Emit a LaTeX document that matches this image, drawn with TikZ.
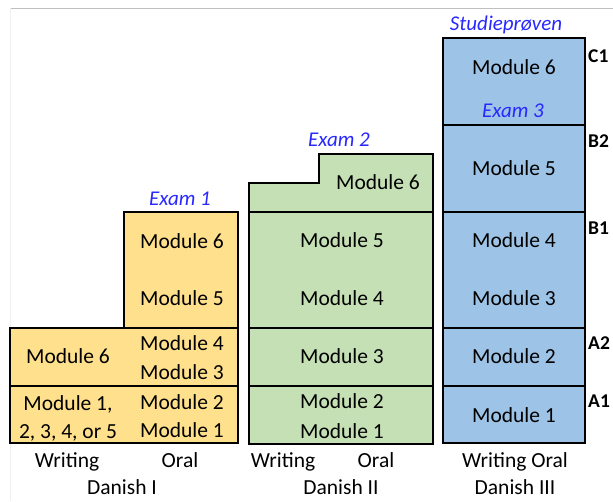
\documentclass[tikz,border=0pt]{standalone}
\usepackage{fontspec}
\setmainfont{Carlito}
\definecolor{myyellow}{RGB}{255,224,140}
\definecolor{mygreen}{RGB}{197,224,180}
\definecolor{myblue}{RGB}{157,195,230}
\definecolor{myexamblue}{RGB}{40,40,255}
\usetikzlibrary{positioning}

\begin{document}
\begin{tikzpicture}[
  x=1pt, y=-1pt,
  font=\fontsize{21.5}{25}\selectfont,
  every node/.append style={
    text height=15pt,
    text depth=4pt
    },
  box/.style={
    draw,
    line width=1.5pt,
    fill=#1
    },
  exam/.style={
    text=myexamblue,
    font=\fontsize{21}{25}\selectfont\itshape
    },
  level/.style={
    anchor=west,
    inner sep=0pt,
    font=\fontsize{19.5}{22}\selectfont\bfseries
    }
]
\useasboundingbox (0,0) rectangle (613,501);
\draw[black!25, line width=1pt] (10,8) -- (613,8);
\draw[black!6, line width=0.6pt] (10,8) -- (10,501);

% Danish I
\draw[box=myyellow] (10,386) rectangle (238,443);
\draw[box=myyellow] (10,328) rectangle (238,386);
\draw[box=myyellow] (124,212) rectangle (238,328);

% Danish II
\draw[box=mygreen] (249,386) rectangle (433,444);
\draw[box=mygreen] (249,328) rectangle (433,386);
\draw[box=mygreen] (249,212) rectangle (433,328);
\draw[box=mygreen] (249,212) -- (249,183) -- (319,183) -- (319,154) -- (433,154) -- (433,212) -- cycle;

% Danish III
\foreach \Top/\Bot in {38/125, 125/212, 212/328, 328/386, 386/443}
  \draw[box=myblue] (443,\Top) rectangle (585,\Bot);

% modules
\node at (68,405) (d1w1) {Module 1,};
\node at (68,433) (d1w2) {2, 3, 4, or 5};
\node at (68,358) (d1w6) {Module 6};
\foreach \y/\m in {243/6, 300/5, 345/4, 374/3, 404/2, 432/1}
  \node at (182,\y) (d1o\m) {Module \m};

\node at (378,184) (d2m6) {Module 6};
\foreach \y/\m in {242/5, 300/4, 358/3, 403/2, 433/1}
  \node at (342,\y) (d2m\m) {Module \m};

\foreach \y/\m in {69/6, 170/5, 242/4, 300/3, 358/2, 417/1}
  \node at (514,\y) (d3m\m) {Module \m};

% exams
\node[exam] at (180,200) (exam1) {Exam 1};
\node[exam] at (339,141) (exam2) {Exam 2};
\node[exam] at (513,112) (exam3) {Exam 3};
\node[exam] at (506,25) (studie) {Studieprøven};

% levels
\foreach \y/\l in {57/C1, 142/B2, 229/B1, 344/A2, 402/A1}
  \node[level] at (588,\y) (lv\l) {\l};

% columns
\node at (67,462) (w1) {Writing};
\node at (180,462) (o1) {Oral};
\node at (122,489) (dan1) {Danish I};
\node at (283,462) (w2) {Writing};
\node at (376,462) (o2) {Oral};
\node at (341,489) (dan2) {Danish II};
\node at (515,462) (wo3) {Writing Oral};
\node at (515,489) (dan3) {Danish III};

\end{tikzpicture}
\end{document}
